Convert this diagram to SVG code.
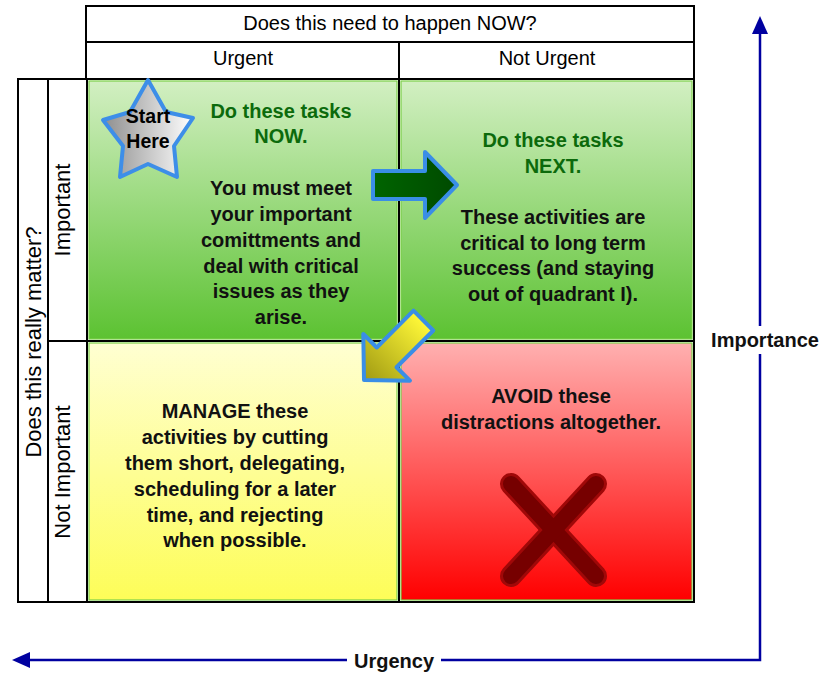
<svg xmlns="http://www.w3.org/2000/svg" width="836" height="674" viewBox="0 0 836 674">
<style>
.frame{fill:#ffffff;stroke:#000000;stroke-width:2}
.hdr{font-family:"Liberation Sans",Arial,sans-serif;font-size:20px;fill:#000000;text-anchor:middle}
.side{font-size:22px}
.body{font-family:"Liberation Sans",Arial,sans-serif;font-size:20px;font-weight:bold;fill:#111111;text-anchor:middle}
.title{fill:#0c6a0c}
.qborder{stroke:#7ccf4a;stroke-width:1.2}
.arrow{stroke:#3a8ee6;stroke-width:4;stroke-linejoin:round}
.axis{stroke:#0000a0;stroke-width:2.5;fill:none}
.axlabel{font-family:"Liberation Sans",Arial,sans-serif;font-size:20px;font-weight:bold;fill:#111111;text-anchor:middle}
</style>
<defs>
<linearGradient id="gGreen" x1="0" y1="0" x2="0" y2="1">
<stop offset="0" stop-color="#d2efc2"/>
<stop offset="1" stop-color="#5cc232"/>
</linearGradient>
<linearGradient id="gYellow" x1="0" y1="0" x2="0" y2="1">
<stop offset="0" stop-color="#ffffd2"/>
<stop offset="1" stop-color="#fdfd58"/>
</linearGradient>
<linearGradient id="gRed" x1="0" y1="0" x2="0" y2="1">
<stop offset="0" stop-color="#ffb0b0"/>
<stop offset="1" stop-color="#ff0000"/>
</linearGradient>
<linearGradient id="gStar" x1="0" y1="0" x2="1" y2="0">
<stop offset="0" stop-color="#8e8e8e"/>
<stop offset="1" stop-color="#ffffff"/>
</linearGradient>
<linearGradient id="gArrowGreen" x1="-84" y1="0" x2="0" y2="0" gradientUnits="userSpaceOnUse">
<stop offset="0" stop-color="#006400"/>
<stop offset="1" stop-color="#004a00"/>
</linearGradient>
<linearGradient id="gArrowYellow" x1="-84" y1="0" x2="0" y2="0" gradientUnits="userSpaceOnUse">
<stop offset="0" stop-color="#fff838"/>
<stop offset="1" stop-color="#a09a12"/>
</linearGradient>
<path id="arrowShape" d="M-84,-14 L-32,-14 L-32,-33 L0,0 L-32,33 L-32,14 L-84,14 Z"/>
</defs>

<g id="header">
<rect class="frame" x="86" y="6" width="608" height="36"/>
<text class="hdr" x="390" y="30">Does this need to happen NOW?</text>
<rect class="frame" x="86" y="42" width="313" height="37"/>
<rect class="frame" x="399" y="42" width="295" height="37"/>
<text class="hdr" x="243" y="65">Urgent</text>
<text class="hdr" x="547" y="65">Not Urgent</text>
</g>

<g id="side-labels">
<rect class="frame" x="18" y="79" width="30" height="523"/>
<text class="hdr side" transform="translate(41,342) rotate(-90)">Does this really matter?</text>
<rect class="frame" x="48" y="79" width="39" height="262"/>
<text class="hdr side" transform="translate(70,210) rotate(-90)">Important</text>
<rect class="frame" x="48" y="341" width="39" height="261"/>
<text class="hdr side" transform="translate(70,472) rotate(-90)">Not Important</text>
</g>

<g id="quadrant-do-now">
<rect class="frame" x="87" y="79" width="312" height="262"/>
<rect class="qborder" x="89" y="81" width="308" height="258" fill="url(#gGreen)"/>
<text class="body title" x="281" y="118">Do these tasks</text>
<text class="body title" x="281" y="143">NOW.</text>
<text class="body" x="281" y="195">You must meet</text>
<text class="body" x="281" y="221">your important</text>
<text class="body" x="281" y="247">comittments and</text>
<text class="body" x="281" y="273">deal with critical</text>
<text class="body" x="281" y="298">issues as they</text>
<text class="body" x="281" y="324">arise.</text>
</g>

<g id="quadrant-do-next">
<rect class="frame" x="399" y="79" width="295" height="262"/>
<rect class="qborder" x="401" y="81" width="291" height="258" fill="url(#gGreen)"/>
<text class="body title" x="553" y="147">Do these tasks</text>
<text class="body title" x="553" y="173">NEXT.</text>
<text class="body" x="553" y="224">These activities are</text>
<text class="body" x="553" y="250">critical to long term</text>
<text class="body" x="553" y="275">success (and staying</text>
<text class="body" x="553" y="301">out of quadrant I).</text>
</g>

<g id="quadrant-manage">
<rect class="frame" x="87" y="341" width="312" height="261"/>
<rect class="qborder" x="89" y="343" width="308" height="257" fill="url(#gYellow)"/>
<text class="body" x="235" y="418">MANAGE these</text>
<text class="body" x="235" y="444">activities by cutting</text>
<text class="body" x="235" y="470">them short, delegating,</text>
<text class="body" x="235" y="496">scheduling for a later</text>
<text class="body" x="235" y="522">time, and rejecting</text>
<text class="body" x="235" y="547">when possible.</text>
</g>

<g id="quadrant-avoid">
<rect class="frame" x="399" y="341" width="295" height="261"/>
<rect class="qborder" x="401" y="343" width="291" height="257" fill="url(#gRed)"/>
<text class="body" x="551" y="403">AVOID these</text>
<text class="body" x="551" y="429">distractions altogether.</text>
<g id="x-mark" stroke-linecap="round">
<line x1="511" y1="484" x2="596" y2="576" stroke="#a00808" stroke-width="22"/>
<line x1="596" y1="484" x2="511" y2="576" stroke="#a00808" stroke-width="22"/>
<line x1="511" y1="484" x2="596" y2="576" stroke="#760000" stroke-width="16"/>
<line x1="596" y1="484" x2="511" y2="576" stroke="#760000" stroke-width="16"/>
</g>
</g>

<g id="start-star">
<polygon points="148,80 166,112 193,118 174,146 177,177 148,164 120,177 123,146 103,120 130,112" fill="url(#gStar)" stroke="#3d8ee8" stroke-width="4" stroke-linejoin="round"/>
<text class="body" x="148" y="123" style="font-size:19.5px;fill:#000">Start</text>
<text class="body" x="148" y="148" style="font-size:19.5px;fill:#000">Here</text>
</g>

<g id="connectors">
<use href="#arrowShape" class="arrow" fill="url(#gArrowGreen)" transform="translate(457,185)"/>
<use href="#arrowShape" class="arrow" fill="url(#gArrowYellow)" transform="translate(364,380) rotate(135)"/>
</g>

<g id="axes">
<polyline class="axis" points="760,32 760,660 28,660"/>
<polygon points="760,16 752,34 768,34" fill="#0000a0"/>
<polygon points="12,660 30,652 30,668" fill="#0000a0"/>
<rect x="706" y="326" width="118" height="28" fill="#ffffff"/>
<text class="axlabel" x="765" y="347">Importance</text>
<rect x="347" y="648" width="94" height="26" fill="#ffffff"/>
<text class="axlabel" x="394" y="668">Urgency</text>
</g>
</svg>
